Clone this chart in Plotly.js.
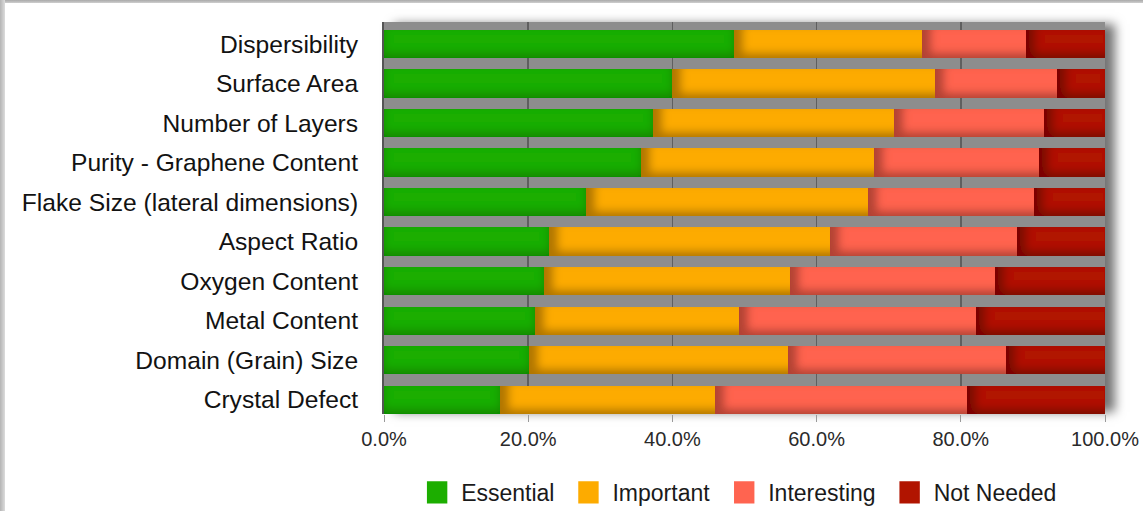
<!DOCTYPE html>
<html>
<head>
<meta charset="utf-8">
<script src="https://cdn.plot.ly/plotly-3.0.1.min.js"></script>
<style>
  html, body { margin: 0; padding: 0; background: #ffffff; }
  #wrap { position: relative; width: 1143px; height: 511px; overflow: hidden; }
  #chart { position: absolute; left: 0; top: 0; width: 1143px; height: 511px; z-index: 1; }
  /* soft drop shadow behind the plotting area */
  #shade { position: absolute; left: 384px; top: 24px; width: 721px; height: 388px;
           box-shadow: 10px 0px 10px rgba(0,0,0,0.55); z-index: 0; background: #8d8d8d; }
  /* grey window frame along the top and left edges */
  #frameTop { position: absolute; left: 0; top: 0; width: 1143px; height: 3px;
              background: linear-gradient(#a9a9a9, #cfcfcf); z-index: 2; }
  #frameLeft { position: absolute; left: 0; top: 0; width: 5px; height: 511px;
               background: linear-gradient(90deg, #b4b4b4, #dcdcdc); z-index: 2; }
  /* larger legend swatches */
  #chart .legend .legendpoints path { transform: translate(29px, 0px) scale(1.7, 1.85); }
  /* shaded bar segments */
  #chart .barlayer .trace:nth-child(1) .point path { filter: url(#shadeBottom); }
  #chart .barlayer .trace:not(:nth-child(1)) .point path { filter: url(#shadeLeftBottom); }
</style>
</head>
<body>
<svg width="0" height="0" style="position:absolute">
  <defs>
    <filter id="shadeLeftBottom" x="-0.1" y="-0.3" width="1.2" height="1.6">
      <feOffset in="SourceAlpha" dx="9" dy="-5" result="off"/>
      <feGaussianBlur in="off" stdDeviation="4" result="blur"/>
      <feComposite in="SourceAlpha" in2="blur" operator="out" result="inner"/>
      <feFlood flood-color="#000000" flood-opacity="0.55"/>
      <feComposite in2="inner" operator="in" result="shadow"/>
      <feComposite in="shadow" in2="SourceAlpha" operator="in" result="clipped"/>
      <feMerge><feMergeNode in="SourceGraphic"/><feMergeNode in="clipped"/></feMerge>
    </filter>
    <filter id="shadeBottom" x="-0.1" y="-0.3" width="1.2" height="1.6">
      <feOffset in="SourceAlpha" dx="0" dy="-5" result="off"/>
      <feGaussianBlur in="off" stdDeviation="4" result="blur"/>
      <feComposite in="SourceAlpha" in2="blur" operator="out" result="inner"/>
      <feFlood flood-color="#000000" flood-opacity="0.4"/>
      <feComposite in2="inner" operator="in" result="shadow"/>
      <feComposite in="shadow" in2="SourceAlpha" operator="in" result="clipped"/>
      <feMerge><feMergeNode in="SourceGraphic"/><feMergeNode in="clipped"/></feMerge>
    </filter>
  </defs>
</svg>
<div id="wrap">
  <div id="shade"></div>
  <div id="chart"></div>
  <div id="frameTop"></div>
  <div id="frameLeft"></div>
</div>
<script>
// Properties, listed top to bottom
const categories = [
  'Dispersibility',
  'Surface Area',
  'Number of Layers',
  'Purity - Graphene Content',
  'Flake Size (lateral dimensions)',
  'Aspect Ratio',
  'Oxygen Content',
  'Metal Content',
  'Domain (Grain) Size',
  'Crystal Defect'
];

// Share of responses (%) per rating
const essential   = [48.5, 39.9, 37.3, 35.6, 28.0, 22.9, 22.2, 20.9, 20.1, 16.1];
const important   = [26.1, 36.5, 33.5, 32.4, 39.1, 39.0, 34.1, 28.3, 36.0, 29.8];
const interesting = [14.5, 17.0, 20.7, 22.8, 23.1, 25.9, 28.4, 32.9, 30.2, 35.0];
const notNeeded   = [10.9,  6.6,  8.5,  9.2,  9.8, 12.2, 15.3, 17.9, 13.7, 19.1];

const seriesNames = ['Essential', 'Important', 'Interesting', 'Not Needed'];
const xTicks = [0, 20, 40, 60, 80, 100];

const colors = ['#1cae00', '#fdab00', '#ff6450', '#b11400'];
const values = [essential, important, interesting, notNeeded];

const traces = values.map((v, i) => ({
  type: 'bar',
  orientation: 'h',
  name: seriesNames[i],
  y: categories,
  x: v,
  marker: { color: colors[i], line: { width: 0 } },
  hoverinfo: 'skip'
}));

const FONT = '"Liberation Sans", Arial, Helvetica, sans-serif';

const layout = {
  width: 1143,
  height: 511,
  barmode: 'stack',
  bargap: 0.28,
  margin: { l: 384, r: 38, t: 22, b: 97, pad: 0, autoexpand: false },
  paper_bgcolor: 'rgba(0,0,0,0)',
  plot_bgcolor: '#8d8d8d',
  font: { family: FONT, color: '#1a1a1a' },
  showlegend: true,
  legend: {
    orientation: 'h',
    x: 0.487, xanchor: 'center',
    y: -0.145, yanchor: 'top',
    itemwidth: 43,
    font: { family: FONT, size: 23, color: '#1a1a1a' },
    bgcolor: 'rgba(0,0,0,0)',
    traceorder: 'normal'
  },
  xaxis: {
    range: [0, 100],
    tickvals: xTicks,
    ticktext: xTicks.map(t => t.toFixed(1) + '%'),
    tickfont: { family: FONT, size: 20, color: '#2a2a2a' },
    showgrid: true,
    gridcolor: '#5f5f5f',
    gridwidth: 1.5,
    zeroline: false,
    showline: false,
    ticks: 'outside',
    ticklen: 7,
    tickwidth: 1,
    tickcolor: '#9a9a9a',
    fixedrange: true
  },
  yaxis: {
    type: 'category',
    range: [9.36, -0.56],
    tickfont: { family: FONT, size: 24.6, color: '#121212' },
    ticks: '',
    ticklabelstandoff: 19,
    showgrid: false,
    zeroline: false,
    showline: true,
    linecolor: '#555555',
    linewidth: 2,
    fixedrange: true
  }
};

Plotly.newPlot('chart', traces, layout, { displayModeBar: false, staticPlot: true });
</script>
</body>
</html>
